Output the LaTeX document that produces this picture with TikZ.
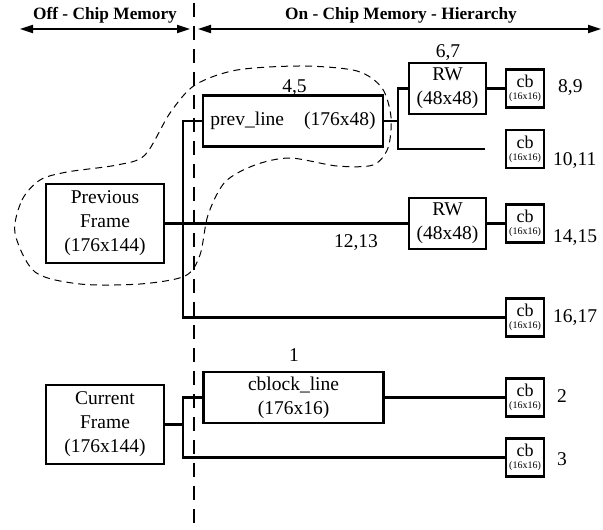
\documentclass[tikz,border=0pt]{standalone}
\usepackage{fontspec}
\setmainfont{Liberation Serif}
\usetikzlibrary{arrows.meta}
\begin{document}
\begin{tikzpicture}[x=1pt,y=-1pt,
  box/.style={draw,line width=2.2pt,inner sep=0pt,align=center,font=\rmfamily\fontsize{19.5}{24}\selectfont},
  framebox/.style={box,minimum width=118pt,minimum height=79pt},
  linebox/.style={box,minimum width=180pt,minimum height=51pt},
  rwbox/.style={box,minimum width=77pt,minimum height=51pt},
  cbbox/.style={draw,line width=2.2pt,inner sep=0pt,minimum width=38pt,minimum height=38pt,align=center,font=\rmfamily},
  num/.style={inner sep=0pt,anchor=base west,font=\rmfamily\fontsize{19.5}{24}\selectfont},
  numc/.style={inner sep=0pt,anchor=base,font=\rmfamily\fontsize{19.5}{24}\selectfont},
  head/.style={inner sep=0pt,anchor=base,font=\rmfamily\fontsize{17.3}{20}\selectfont\bfseries},
  conn/.style={line width=2.2pt},
  hdarrow/.style={line width=1.7pt,{Triangle[length=13pt,width=8pt]}-{Triangle[length=13pt,width=8pt]}},
  divider/.style={line width=2.7pt,dash pattern=on 14pt off 9pt},
  region/.style={line width=1pt,dash pattern=on 7pt off 5pt}
]
\useasboundingbox (0,0) rectangle (603,530);

% header
\node[head] (offtxt) at (105,19.5) {Off - Chip Memory};
\node[head] (ontxt) at (401,19.5) {On - Chip Memory - Hierarchy};
\coordinate (a1) at (20,29);
\coordinate (a2) at (190,29);
\coordinate (a3) at (198,29);
\coordinate (a4) at (601,29);
\draw[hdarrow] (a1) -- (a2);
\draw[hdarrow] (a3) -- (a4);
\coordinate (d1) at (194,3);
\coordinate (d2) at (194,530);
\draw[divider] (d1) -- (d2);

% boxes
\node[framebox] (prevframe) at (105,223.5) {Previous\\Frame\\(176x144)};
\node[framebox] (curframe) at (105,424.5) {Current\\Frame\\(176x144)};
\node[linebox] (prevline) at (293,121) {prev\_line\hspace{20pt}(176x48)};
\node[linebox] (cblock) at (293.5,397.5) {cblock\_line\\(176x16)};
\node[rwbox] (rw1) at (447.5,88.5) {RW\\(48x48)};
\node[rwbox] (rw2) at (447.5,223.5) {RW\\(48x48)};

\newcommand{\cbtext}{\fontsize{18}{18}\selectfont cb\\\fontsize{10}{11}\selectfont(16x16)}
\node[cbbox] (cb1) at (525,88.5) {\cbtext};
\node[cbbox] (cb2) at (525,149) {\cbtext};
\node[cbbox] (cb3) at (525,223.5) {\cbtext};
\node[cbbox] (cb4) at (525,317.5) {\cbtext};
\node[cbbox] (cb5) at (525,397.5) {\cbtext};
\node[cbbox] (cb6) at (525,457.5) {\cbtext};

% labels
\node[numc] (l67) at (448,57) {6,7};
\node[numc] (l45) at (294.5,92) {4,5};
\node[numc] (l1213) at (356,247) {12,13};
\node[numc] (l1) at (294,361) {1};
\node[num] (l89) at (558,92) {8,9};
\node[num] (l1011) at (553,165) {10,11};
\node[num] (l1415) at (553,242) {14,15};
\node[num] (l1617) at (553,322) {16,17};
\node[num] (l2) at (557,402) {2};
\node[num] (l3) at (557,465) {3};

% connectors
\coordinate (j1) at (183,200);
\coordinate (j2) at (398,121);
\coordinate (j3) at (183,424.5);
\coordinate (e2) at (485,149);
\draw[conn] (prevframe.east) -- (rw2.west);
\draw[conn] (prevline.west) -| (j1) |- (cb4.west);
\draw[conn] (prevline.east) -- (j2);
\draw[conn] (rw1.west) -| (j2) |- (e2);
\draw[conn] (rw1.east) -- (cb1.west);
\draw[conn] (rw2.east) -- (cb3.west);
\draw[conn] (curframe.east) -- (j3);
\draw[conn] (cblock.west) -| (j3) |- (cb6.west);
\draw[conn] (cblock.east) -- (cb5.west);

% region outline
\draw[region] plot[smooth cycle] coordinates {(15,233) (22,200) (40,180) (67,172) (117,165) (145,155) (170,113) (195,85) (237,70) (303,66) (357,71) (382,88) (391,117) (388,148) (373,165) (337,166) (290,158) (255,165) (225,182) (208,215) (200,255) (185,276) (140,284) (80,284) (35,272)};
\end{tikzpicture}
\end{document}
